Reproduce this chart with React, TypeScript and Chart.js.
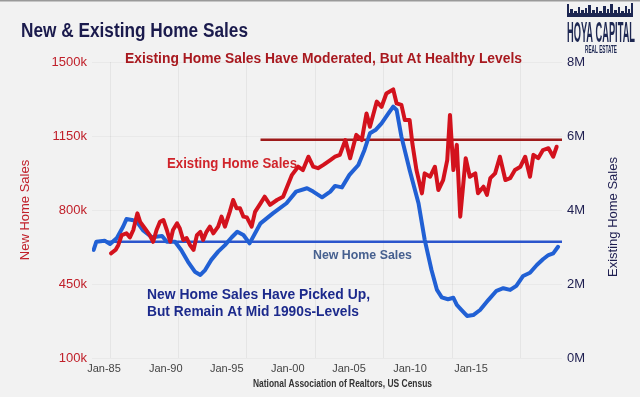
import React, { useEffect, useRef } from "react";
import { Chart, registerables } from "chart.js";

Chart.register(...registerables);

// ---- Data ----
// New home sales, thousands (left axis)
const newYears = [1983.8, 1984.0, 1984.6, 1985.0, 1985.5, 1985.95, 1986.2, 1986.6, 1986.95, 1987.4, 1988.05, 1988.8, 1989.15, 1989.75, 1990.2, 1990.7, 1991.2, 1991.6, 1991.95, 1992.4, 1992.9, 1993.4, 1993.9, 1994.3, 1994.75, 1995.2, 1996.0, 1996.9, 1997.9, 1998.6, 1999.4, 1999.85, 2000.5, 2001.1, 2001.45, 2001.95, 2002.5, 2003.15, 2003.6, 2004.0, 2004.4, 2004.85, 2005.35, 2005.7, 2005.95, 2006.3, 2006.9, 2007.55, 2008.0, 2008.5, 2008.9, 2009.25, 2009.7, 2010.1, 2010.35, 2010.7, 2011.1, 2011.55, 2012.05, 2012.65, 2013.25, 2013.75, 2014.25, 2014.7, 2015.2, 2015.7, 2016.2, 2016.65, 2017.05, 2017.4, 2017.75];
const newSales = [611, 650, 655, 639, 668, 721, 757, 753, 745, 705, 671, 677, 650, 650, 611, 555, 508, 493, 516, 564, 603, 634, 671, 697, 682, 642, 737, 784, 832, 887, 903, 887, 860, 887, 914, 907, 966, 1013, 1084, 1163, 1178, 1210, 1257, 1289, 1273, 1147, 989, 832, 660, 516, 422, 387, 378, 385, 351, 327, 299, 303, 327, 374, 418, 430, 422, 441, 488, 503, 540, 567, 587, 595, 626];

// Existing home sales, millions (right axis)
const existingYears = [1985.07, 1985.4, 1985.6, 1985.85, 1986.2, 1986.45, 1986.7, 1987.0, 1987.2, 1987.55, 1987.9, 1988.15, 1988.4, 1988.65, 1988.9, 1989.15, 1989.4, 1989.6, 1989.9, 1990.1, 1990.35, 1990.6, 1990.85, 1991.1, 1991.35, 1991.6, 1991.8, 1992.05, 1992.3, 1992.55, 1992.9, 1993.15, 1993.4, 1993.75, 1994.0, 1994.25, 1994.5, 1994.75, 1995.0, 1995.35, 1995.6, 1996.0, 1996.3, 1996.7, 1997.2, 1997.65, 1998.3, 1998.75, 1999.1, 1999.5, 1999.85, 2000.2, 2000.6, 2001.1, 2001.45, 2001.8, 2002.2, 2002.55, 2003.0, 2003.4, 2003.75, 2004.0, 2004.5, 2004.85, 2005.2, 2005.7, 2005.95, 2006.3, 2006.55, 2006.9, 2007.1, 2007.4, 2007.8, 2008.0, 2008.4, 2008.75, 2009.0, 2009.35, 2009.65, 2009.85, 2010.1, 2010.35, 2010.6, 2010.85, 2011.0, 2011.3, 2011.7, 2011.9, 2012.3, 2012.55, 2012.8, 2013.15, 2013.5, 2013.9, 2014.25, 2014.6, 2015.0, 2015.35, 2015.7, 2015.95, 2016.3, 2016.65, 2017.05, 2017.4, 2017.65];
const existingSales = [2.83, 2.92, 3.05, 3.32, 3.37, 3.26, 3.46, 3.91, 3.68, 3.5, 3.32, 3.14, 3.46, 3.68, 3.73, 3.46, 3.14, 3.46, 3.64, 3.5, 3.19, 3.24, 3.05, 2.92, 3.32, 3.41, 3.19, 3.41, 3.55, 3.37, 3.55, 3.82, 3.55, 3.95, 4.27, 4.05, 4.05, 3.82, 3.8, 3.55, 3.95, 4.18, 4.36, 4.14, 4.27, 4.36, 4.95, 5.17, 5.08, 5.44, 5.17, 5.13, 5.22, 5.35, 5.44, 5.49, 5.89, 5.4, 6.03, 5.89, 6.61, 6.25, 6.93, 6.79, 7.15, 7.26, 6.88, 6.84, 6.43, 6.43, 5.8, 5.08, 4.45, 4.99, 4.9, 5.17, 4.54, 4.81, 5.35, 6.57, 5.08, 5.76, 3.82, 4.81, 5.4, 4.9, 4.99, 4.45, 4.63, 4.41, 4.86, 4.99, 5.44, 4.81, 4.86, 5.08, 5.17, 5.44, 4.9, 5.49, 5.4, 5.62, 5.67, 5.44, 5.71];

// Reference levels
const existingRefYears = [1996.0, 2018.04];
const existingRefLevel = 5.9;
const newRefYears = [1984.0, 2018.04];
const newRefLevel = 650;

// Axes
const xMin = 1983.68;
const xMax = 2018.04;
const gridYears = [1985, 1990, 1995, 2000, 2005, 2010, 2015];
const tickLabels = ["Jan-85", "Jan-90", "Jan-95", "Jan-00", "Jan-05", "Jan-10", "Jan-15"];
const tickLabelYears = [1984.56, 1989.07, 1993.53, 1997.99, 2002.47, 2006.93, 2011.39];
const leftTicks = [100, 450, 800, 1150, 1500];
const rightTicks = [0, 2, 4, 6, 8];

const FONT = "'Liberation Sans', Arial, Helvetica, sans-serif";

function fitText(
  ctx: CanvasRenderingContext2D,
  text: string,
  x: number,
  baseline: number,
  width: number,
  font: string,
  color: string
) {
  ctx.save();
  ctx.font = font;
  ctx.fillStyle = color;
  ctx.textAlign = "left";
  ctx.textBaseline = "alphabetic";
  const w = ctx.measureText(text).width;
  ctx.translate(x, baseline);
  ctx.scale(width / w, 1);
  ctx.fillText(text, 0, 0);
  ctx.restore();
}

const decorPlugin = {
  id: "decor",
  beforeDraw(chart: any) {
    const ctx = chart.ctx as CanvasRenderingContext2D;
    ctx.save();
    ctx.fillStyle = "#f2f2f2";
    ctx.fillRect(0, 0, chart.width, chart.height);
    ctx.fillStyle = "#9a9a9a";
    ctx.fillRect(0, 0, chart.width, 1.5);
    ctx.restore();
  },
  afterDraw(chart: any) {
    const ctx = chart.ctx as CanvasRenderingContext2D;
    // Title
    fitText(ctx, "New & Existing Home Sales", 21, 37, 227, `bold 20px ${FONT}`, "#1b1b4d");
    // Annotations
    fitText(ctx, "Existing Home Sales Have Moderated, But At Healthy Levels", 125, 63, 397, `bold 14px ${FONT}`, "#a8191f");
    fitText(ctx, "Existing Home Sales", 167, 168, 130, `bold 14px ${FONT}`, "#d0242b");
    fitText(ctx, "New Home Sales", 313, 259, 99, `bold 13.5px ${FONT}`, "#46608f");
    fitText(ctx, "New Home Sales Have Picked Up,", 147, 299, 223, `bold 14px ${FONT}`, "#1c2a8c");
    fitText(ctx, "But Remain At Mid 1990s-Levels", 147, 316, 212, `bold 14px ${FONT}`, "#1c2a8c");
    // Source
    fitText(ctx, "National Association of Realtors, US Census", 253, 387, 179, `bold 11px ${FONT}`, "#333333");
    // Right axis title (reads bottom-to-top, like the reference)
    ctx.save();
    ctx.translate(613, 217);
    ctx.rotate(-Math.PI / 2);
    ctx.font = `13px ${FONT}`;
    ctx.fillStyle = "#1e1e50";
    ctx.textAlign = "center";
    ctx.textBaseline = "middle";
    ctx.fillText("Existing Home Sales", 0, 0);
    ctx.restore();
    // Logo
    ctx.save();
    ctx.fillStyle = "#1d2752";
    ctx.fillRect(567, 13, 66, 4);
    const towers: number[][] = [
      [567, 4, 2], [570, 9, 3], [574, 11, 3], [578, 7, 2], [581, 10, 3], [585, 8, 2], [588, 5, 3],
      [592, 10, 3], [596, 7, 2], [599, 11, 3], [603, 6, 3], [607, 9, 2], [610, 4, 3], [614, 10, 3],
      [618, 7, 2], [621, 11, 3], [625, 6, 2], [628, 9, 2], [631, 3, 2],
    ];
    towers.forEach(([tx, top, w]) => ctx.fillRect(tx, top, w, 17 - top));
    ctx.restore();
    fitText(ctx, "HOYA CAPITAL", 567, 42, 68, `bold 30px ${FONT}`, "#1d2752");
    fitText(ctx, "REAL ESTATE", 585, 53, 32, `bold 10px ${FONT}`, "#1d2752");
  },
};

export default function App() {
  const canvasRef = useRef<HTMLCanvasElement | null>(null);

  useEffect(() => {
    const canvas = canvasRef.current;
    if (!canvas) return;
    const toPts = (xs: number[], ys: number[]) => xs.map((x, i) => ({ x, y: ys[i] }));

    const chart = new Chart(canvas, {
      type: "line",
      data: {
        datasets: [
          {
            label: "Existing Home Sales",
            data: toPts(existingYears, existingSales),
            yAxisID: "y2",
            xAxisID: "x",
            borderColor: "#d3121d",
            borderWidth: 4,
            pointRadius: 0,
            tension: 0,
            borderJoinStyle: "round",
            borderCapStyle: "round",
          },
          {
            label: "New Home Sales",
            data: toPts(newYears, newSales),
            yAxisID: "y",
            xAxisID: "x",
            borderColor: "#2160d4",
            borderWidth: 4,
            pointRadius: 0,
            tension: 0,
            borderJoinStyle: "round",
            borderCapStyle: "round",
          },
          {
            label: "Existing ref",
            data: existingRefYears.map((x) => ({ x, y: existingRefLevel })),
            yAxisID: "y2",
            xAxisID: "x",
            borderColor: "#9e1b1b",
            borderWidth: 2.5,
            pointRadius: 0,
          },
          {
            label: "New ref",
            data: newRefYears.map((x) => ({ x, y: newRefLevel })),
            yAxisID: "y",
            xAxisID: "x",
            borderColor: "#2b55cc",
            borderWidth: 2.5,
            pointRadius: 0,
          },
        ],
      },
      options: {
        responsive: false,
        animation: false,
        devicePixelRatio: 1,
        layout: { padding: { top: 62, left: 0, right: 0, bottom: 0 } },
        plugins: {
          legend: { display: false },
          tooltip: { enabled: false },
          title: { display: false },
        },
        scales: {
          x: {
            type: "linear",
            position: "bottom",
            min: xMin,
            max: xMax,
            afterBuildTicks: (s: any) => {
              s.ticks = gridYears.map((v) => ({ value: v }));
            },
            afterFit: (s: any) => {
              s.height = 0;
            },
            ticks: { display: false },
            grid: { color: "rgba(0,0,0,0.05)", drawTicks: false },
            border: { display: false },
          },
          xl: {
            type: "linear",
            position: "bottom",
            min: xMin,
            max: xMax,
            afterBuildTicks: (s: any) => {
              s.ticks = tickLabelYears.map((v) => ({ value: v }));
            },
            afterFit: (s: any) => {
              s.height = 39;
            },
            ticks: {
              autoSkip: false,
              maxRotation: 0,
              padding: 4,
              color: "#444444",
              font: { family: FONT, size: 11 },
              callback: (_v: any, i: number) => tickLabels[i],
            },
            grid: { display: false, drawTicks: false },
            border: { display: false },
          },
          y: {
            type: "linear",
            position: "left",
            min: 100,
            max: 1500,
            afterBuildTicks: (s: any) => {
              s.ticks = leftTicks.map((v) => ({ value: v }));
            },
            afterFit: (s: any) => {
              s.width = 92;
            },
            ticks: {
              padding: 5,
              color: "#c0202a",
              font: { family: FONT, size: 13 },
              callback: (v: any) => `${v}k`,
            },
            title: {
              display: true,
              text: "New Home Sales",
              color: "#c0202a",
              font: { family: FONT, size: 13 },
              padding: { top: 18, bottom: 0 },
            },
            grid: { color: "rgba(0,0,0,0.035)", drawTicks: false },
            border: { display: false },
          },
          y2: {
            type: "linear",
            position: "right",
            min: 0,
            max: 8,
            afterBuildTicks: (s: any) => {
              s.ticks = rightTicks.map((v) => ({ value: v }));
            },
            afterFit: (s: any) => {
              s.width = 78;
            },
            ticks: {
              padding: 5,
              color: "#1e1e50",
              font: { family: FONT, size: 13 },
              callback: (v: any) => `${v}M`,
            },
            title: { display: false },
            grid: { display: false, drawTicks: false },
            border: { display: false },
          },
        },
      } as any,
      plugins: [decorPlugin],
    });

    return () => chart.destroy();
  }, []);

  return (
    <div style={{ position: "fixed", left: 0, top: 0, width: 640, height: 397, background: "#f2f2f2" }}>
      <canvas ref={canvasRef} width={640} height={397} style={{ display: "block", width: 640, height: 397 }} />
    </div>
  );
}
